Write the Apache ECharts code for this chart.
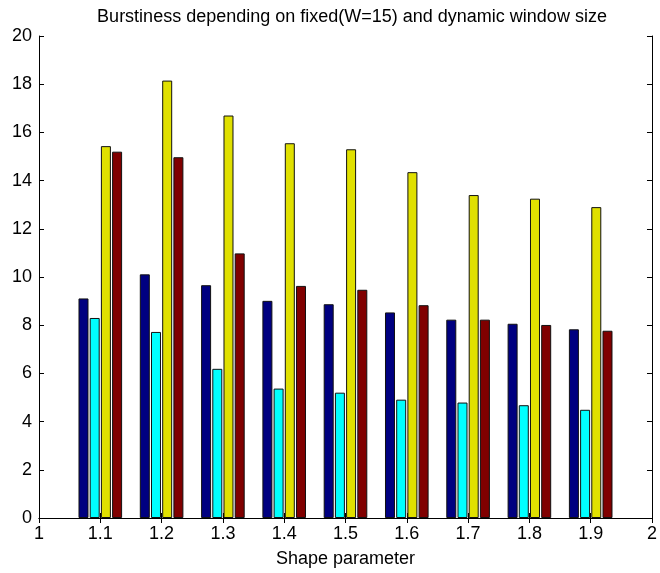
<!DOCTYPE html>
<html>
<head>
<meta charset="utf-8">
<script src="https://cdn.jsdelivr.net/npm/echarts@6/dist/echarts.min.js"></script>
<style>
  html, body { margin: 0; padding: 0; background: #fff; }
  #chart { width: 660px; height: 573px; }
</style>
</head>
<body>
<div id="chart"></div>
<script>
// Shape parameter values (x positions of each bar group)
const shapeParams = [1.1, 1.2, 1.3, 1.4, 1.5, 1.6, 1.7, 1.8, 1.9];

// Burstiness values, one array per bar series
const seriesA = [9.11, 10.11, 9.66, 9.01, 8.87, 8.53, 8.23, 8.06, 7.83];
const seriesB = [8.30, 7.72, 6.19, 5.37, 5.20, 4.91, 4.79, 4.68, 4.49];
const seriesC = [15.43, 18.15, 16.70, 15.55, 15.30, 14.35, 13.40, 13.25, 12.90];
const seriesD = [15.20, 14.97, 10.98, 9.63, 9.47, 8.83, 8.23, 8.01, 7.77];

const seriesColors = ['#000080', '#00ffff', '#e0e000', '#800000'];
const allSeries = [seriesA, seriesB, seriesC, seriesD];

const titleText = 'Burstiness depending on fixed(W=15) and dynamic window size';
const xName = 'Shape parameter';

const FONT = 'Liberation Sans, Arial, sans-serif';

const chart = echarts.init(document.getElementById('chart'), null, { renderer: 'canvas' });

const tickStyle = { show: true, inside: true, length: 5, lineStyle: { color: '#000', width: 1 } };
const lineStyle = { show: true, lineStyle: { color: '#000', width: 1 } };

const option = {
  animation: false,
  backgroundColor: '#fff',
  title: {
    text: titleText,
    left: 347, textAlign: 'center',
    top: 3,
    textStyle: { fontFamily: FONT, fontSize: 18, fontWeight: 'normal', color: '#000' }
  },
  grid: { left: 39, right: 5, top: 36, bottom: 53, containLabel: false },
  xAxis: [
    {
      type: 'value', min: 1, max: 2, interval: 0.1, position: 'bottom',
      name: xName, nameLocation: 'middle', nameGap: 32,
      nameTextStyle: { fontFamily: FONT, fontSize: 18, color: '#000' },
      axisLine: lineStyle, axisTick: tickStyle, splitLine: { show: false },
      axisLabel: {
        fontFamily: FONT, fontSize: 18, color: '#000', margin: 7,
        formatter: v => String(Math.round(v * 10) / 10)
      }
    },
    {
      type: 'value', min: 1, max: 2, interval: 0.1, position: 'top',
      axisLine: lineStyle, axisTick: tickStyle, splitLine: { show: false },
      axisLabel: { show: false }
    }
  ],
  yAxis: [
    {
      type: 'value', min: 0, max: 20, interval: 2, position: 'left',
      axisLine: lineStyle, axisTick: tickStyle, splitLine: { show: false },
      axisLabel: { fontFamily: FONT, fontSize: 18, color: '#000', margin: 7 }
    },
    {
      type: 'value', min: 0, max: 20, interval: 2, position: 'right',
      axisLine: lineStyle, axisTick: tickStyle, splitLine: { show: false },
      axisLabel: { show: false }
    }
  ],
  series: allSeries.map((vals, i) => ({
    type: 'bar',
    xAxisIndex: 0,
    yAxisIndex: 0,
    barWidth: 10,
    barGap: '12%',
    data: shapeParams.map((x, j) => [x, vals[j]]),
    itemStyle: { color: seriesColors[i], borderColor: '#111', borderWidth: 1 },
    z: 1
  }))
};

chart.setOption(option);
</script>
</body>
</html>
